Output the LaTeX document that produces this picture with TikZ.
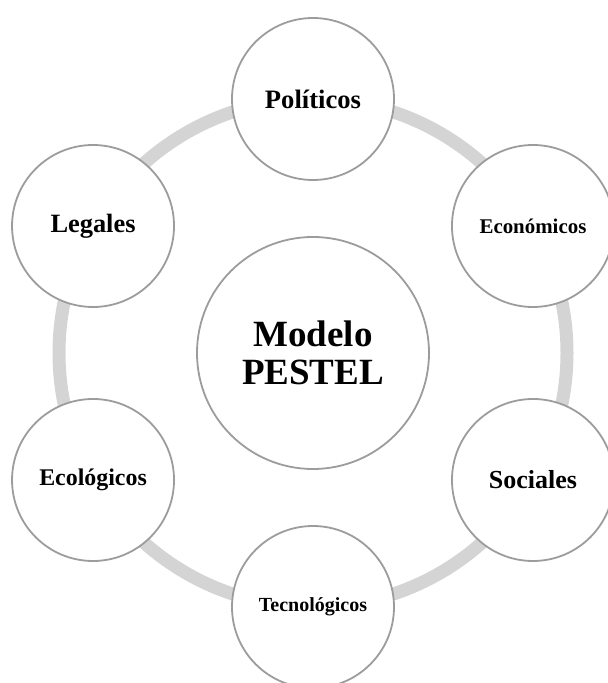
\documentclass[tikz,border=0pt]{standalone}
\usepackage{fontspec}
\setmainfont{Liberation Serif}
\usepackage{tikz}
\usetikzlibrary{calc}
\definecolor{ringgray}{HTML}{D4D4D4}
\definecolor{edgegray}{HTML}{9C9C9C}

\begin{document}
\begin{tikzpicture}[x=1pt,y=1pt,
  factor/.style={circle,draw=edgegray,line width=1.8pt,fill=white,minimum size=162pt,inner sep=0pt,align=center,font=\bfseries},
  centro/.style={factor,minimum size=232pt}]
  \useasboundingbox (0,0) rectangle (608,683);
  \coordinate (c) at (313,330);
  \draw[ringgray,line width=13pt] (c) circle (254);
  \begin{scope}[shift={(c)}]
  \node[centro,font=\bfseries\fontsize{37}{38}\selectfont] (modelo) at (0,0) {Modelo\\PESTEL};
  \node[factor,font=\bfseries\fontsize{26.6}{30}\selectfont] (pol) at (90:254) {Políticos};
  \node[factor,font=\bfseries\fontsize{20.9}{24}\selectfont] (econ) at (30:254) {Económicos};
  \node[factor,font=\bfseries\fontsize{26}{30}\selectfont] (soc) at (-30:254) {Sociales};
  \node[factor,font=\bfseries\fontsize{20}{24}\selectfont] (tec) at (-90:254) {Tecnológicos};
  \node[factor,font=\bfseries\fontsize{23.9}{28}\selectfont] (ecol) at (-150:254) {Ecológicos};
  \node[factor,font=\bfseries\fontsize{26.4}{30}\selectfont] (leg) at (150:254) {Legales};
  \end{scope}
\end{tikzpicture}
\end{document}
